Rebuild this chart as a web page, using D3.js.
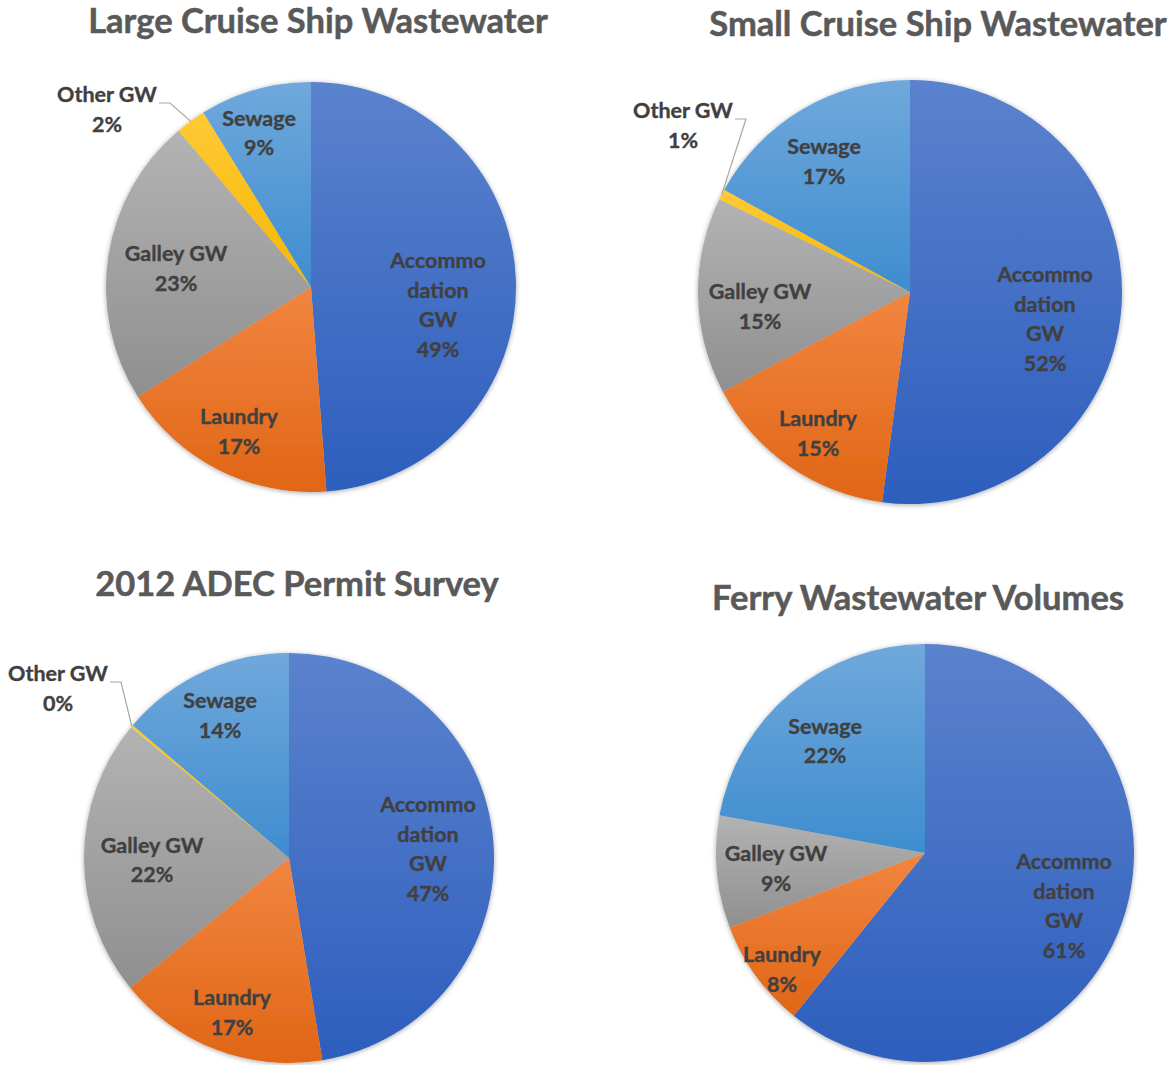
<!DOCTYPE html>
<html>
<head>
  <meta charset="utf-8">
  <title>Wastewater sources by vessel type</title>
  <script src="https://d3js.org/d3.v7.min.js"></script>
  <style>
    body { margin: 0; background: #fff; }
    svg text { font-family: "Lato", "Open Sans", sans-serif; font-weight: bold; }
    .title { fill: #595959; stroke: #595959; stroke-width: 0.5px; font-size: 34.5px; }
    .lbl { fill: #404040; stroke: #404040; stroke-width: 0.35px; font-size: 21.5px; }
  </style>
</head>
<body>
<script>
  // slice order, clockwise from 12 o'clock
  var categories = ["Accommodation GW", "Laundry", "Galley GW", "Other GW", "Sewage"];
  var labelLines = [["Accommo", "dation", "GW"], ["Laundry"], ["Galley GW"], ["Other GW"], ["Sewage"]];

  var titles = ["Large Cruise Ship Wastewater", "Small Cruise Ship Wastewater",
                "2012 ADEC Permit Survey", "Ferry Wastewater Volumes"];

  // percent shares
  var largeCruise = [48.8, 17.2, 22.8, 2.4, 8.8];
  var smallCruise = [52.1, 15.1, 15.0, 0.8, 17.0];
  var adecSurvey  = [47.4, 16.7, 21.9, 0.2, 13.8];
  var ferry       = [60.8, 8.4, 8.7, null, 22.1];

  var series = [largeCruise, smallCruise, adecSurvey, ferry];

  /* layout for each pie: centre, radius, title spot, label offsets (Excel "best fit") */
  var panels = [
    { cx: 311, cy: 287, r: 205, tx: 318, ty: 33,
      lab: [[127, 18.5], [-72, 145], [-135, -18], [-204, -177], [-52, -153.5]] },
    { cx: 910, cy: 292, r: 212, tx: 938, ty: 36,
      lab: [[135, 27.5], [-92, 142], [-150, 15], [-227, -166], [-86, -130]] },
    { cx: 289, cy: 858, r: 205, tx: 297, ty: 596,
      lab: [[139, -8.5], [-57, 155], [-137, 2.5], [-231, -169], [-69, -142]] },
    { cx: 925, cy: 853, r: 209, tx: 918, ty: 610,
      lab: [[139, 53.5], [-143, 117], [-149, 16], null, [-100, -111.5]] }
  ];

  var colors = [
    ["#5b82cd", "#2d5ebd"],
    ["#f18540", "#e06616"],
    ["#b3b3b3", "#8f8f8f"],
    ["#ffc936", "#f5b800"],
    ["#70a8dc", "#3e8dcf"]
  ];

  var svg = d3.select("body").append("svg")
      .attr("width", 1173)
      .attr("height", 1065);

  var defs = svg.append("defs");

  colors.forEach(function(c, i) {
    var g = defs.append("linearGradient")
        .attr("id", "grad" + i)
        .attr("x1", 0).attr("y1", 0).attr("x2", 0).attr("y2", 1);
    g.append("stop").attr("offset", "0%").attr("stop-color", c[0]);
    g.append("stop").attr("offset", "100%").attr("stop-color", c[1]);
  });

  defs.append("filter")
      .attr("id", "shadow")
      .attr("x", "-10%").attr("y", "-10%")
      .attr("width", "120%").attr("height", "120%")
    .append("feDropShadow")
      .attr("dx", 0).attr("dy", 1)
      .attr("stdDeviation", 2.5)
      .attr("flood-color", "#000")
      .attr("flood-opacity", 0.35);

  var pie = d3.pie()
      .sort(null)
      .value(function(d) { return d.value; });

  panels.forEach(function(p, k) {
    var data = series[k]
      .map(function(v, i) { return { value: v, idx: i }; })
      .filter(function(d) { return d.value !== null; });

    var arcs = pie(data);
    var arc = d3.arc().innerRadius(0).outerRadius(p.r);

    svg.append("text")
        .attr("class", "title")
        .attr("x", p.tx)
        .attr("y", p.ty)
        .attr("text-anchor", "middle")
        .text(titles[k]);

    var g = svg.append("g")
        .attr("transform", "translate(" + p.cx + "," + p.cy + ")");

    g.append("g")
        .attr("filter", "url(#shadow)")
      .selectAll("path")
      .data(arcs)
      .enter().append("path")
        .attr("d", arc)
        .attr("fill", function(d) { return "url(#grad" + d.data.idx + ")"; });

    arcs.forEach(function(d) {
      var i = d.data.idx;
      var pos = p.lab[i];
      if (!pos) return;
      var lines = labelLines[i].concat([Math.round(d.data.value) + "%"]);
      var x = pos[0], y = pos[1];

      if (i === 3) {
        // leader line from the outside label to the slice edge
        var mid = (d.startAngle + d.endAngle) / 2;
        var ex = Math.sin(mid) * p.r, ey = -Math.cos(mid) * p.r;
        var sx = x + 52, sy = y - 7;
        g.append("polyline")
            .attr("points", [[sx, sy], [sx + 11, sy], [ex, ey]].join(" "))
            .attr("fill", "none")
            .attr("stroke", "#a6a6a6")
            .attr("stroke-width", 1.2);
      }

      var lh = 29.5;
      var top = y - (lines.length - 1) * lh / 2 + 7;
      var t = g.append("text")
          .attr("class", "lbl")
          .attr("text-anchor", "middle");
      lines.forEach(function(s, j) {
        t.append("tspan")
            .attr("x", x)
            .attr("y", top + j * lh)
            .text(s);
      });
    });
  });
</script>
</body>
</html>
